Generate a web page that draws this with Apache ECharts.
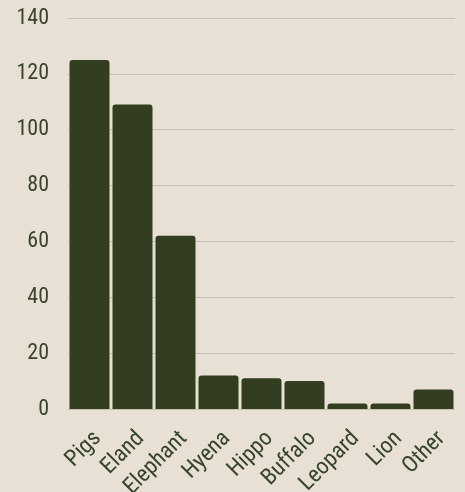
<!DOCTYPE html>
<html>
<head>
<meta charset="utf-8">
<script src="https://cdn.jsdelivr.net/npm/echarts@6/dist/echarts.min.js"></script>
<style>
  html, body { margin: 0; padding: 0; background: #e8e0d4; }
  #chart { width: 465px; height: 492px; }
</style>
</head>
<body>
<div id="chart"></div>
<script>
// Animals and their counts
const categories = ['Pigs', 'Eland', 'Elephant', 'Hyena', 'Hippo', 'Buffalo', 'Leopard', 'Lion', 'Other'];
const counts = [125, 109, 62, 12, 11, 10, 2, 2, 7];
const yTicks = [0, 20, 40, 60, 80, 100, 120, 140];

const textColor = '#36452a';
const fontFamily = '"Roboto Condensed", "Liberation Sans Narrow", Roboto, sans-serif';

const chart = echarts.init(document.getElementById('chart'), null, { renderer: 'canvas' });
chart.setOption({
  backgroundColor: '#e8e0d4',
  animation: false,
  grid: { left: 68, right: 10, top: 18, bottom: 83, containLabel: false, outerBoundsMode: 'none' },
  xAxis: {
    type: 'category',
    data: categories,
    axisLine: { show: false },
    axisTick: { show: false },
    axisLabel: {
      rotate: 45,
      margin: 18,
      verticalAlign: 'top',
      hideOverlap: false,
      color: textColor,
      fontSize: 23,
      fontFamily: fontFamily
    }
  },
  yAxis: {
    type: 'value',
    min: yTicks[0],
    max: yTicks[yTicks.length - 1],
    interval: 20,
    axisLine: { show: false },
    axisTick: { show: false },
    axisLabel: {
      margin: 19,
      color: textColor,
      fontSize: 22,
      fontFamily: fontFamily
    },
    splitLine: { lineStyle: { color: '#c8bfb0', width: 1 } }
  },
  series: [{
    type: 'bar',
    data: counts,
    barCategoryGap: '7%',
    itemStyle: {
      color: '#323e1f',
      borderRadius: [3, 3, 0, 0]
    }
  }]
});
</script>
</body>
</html>
